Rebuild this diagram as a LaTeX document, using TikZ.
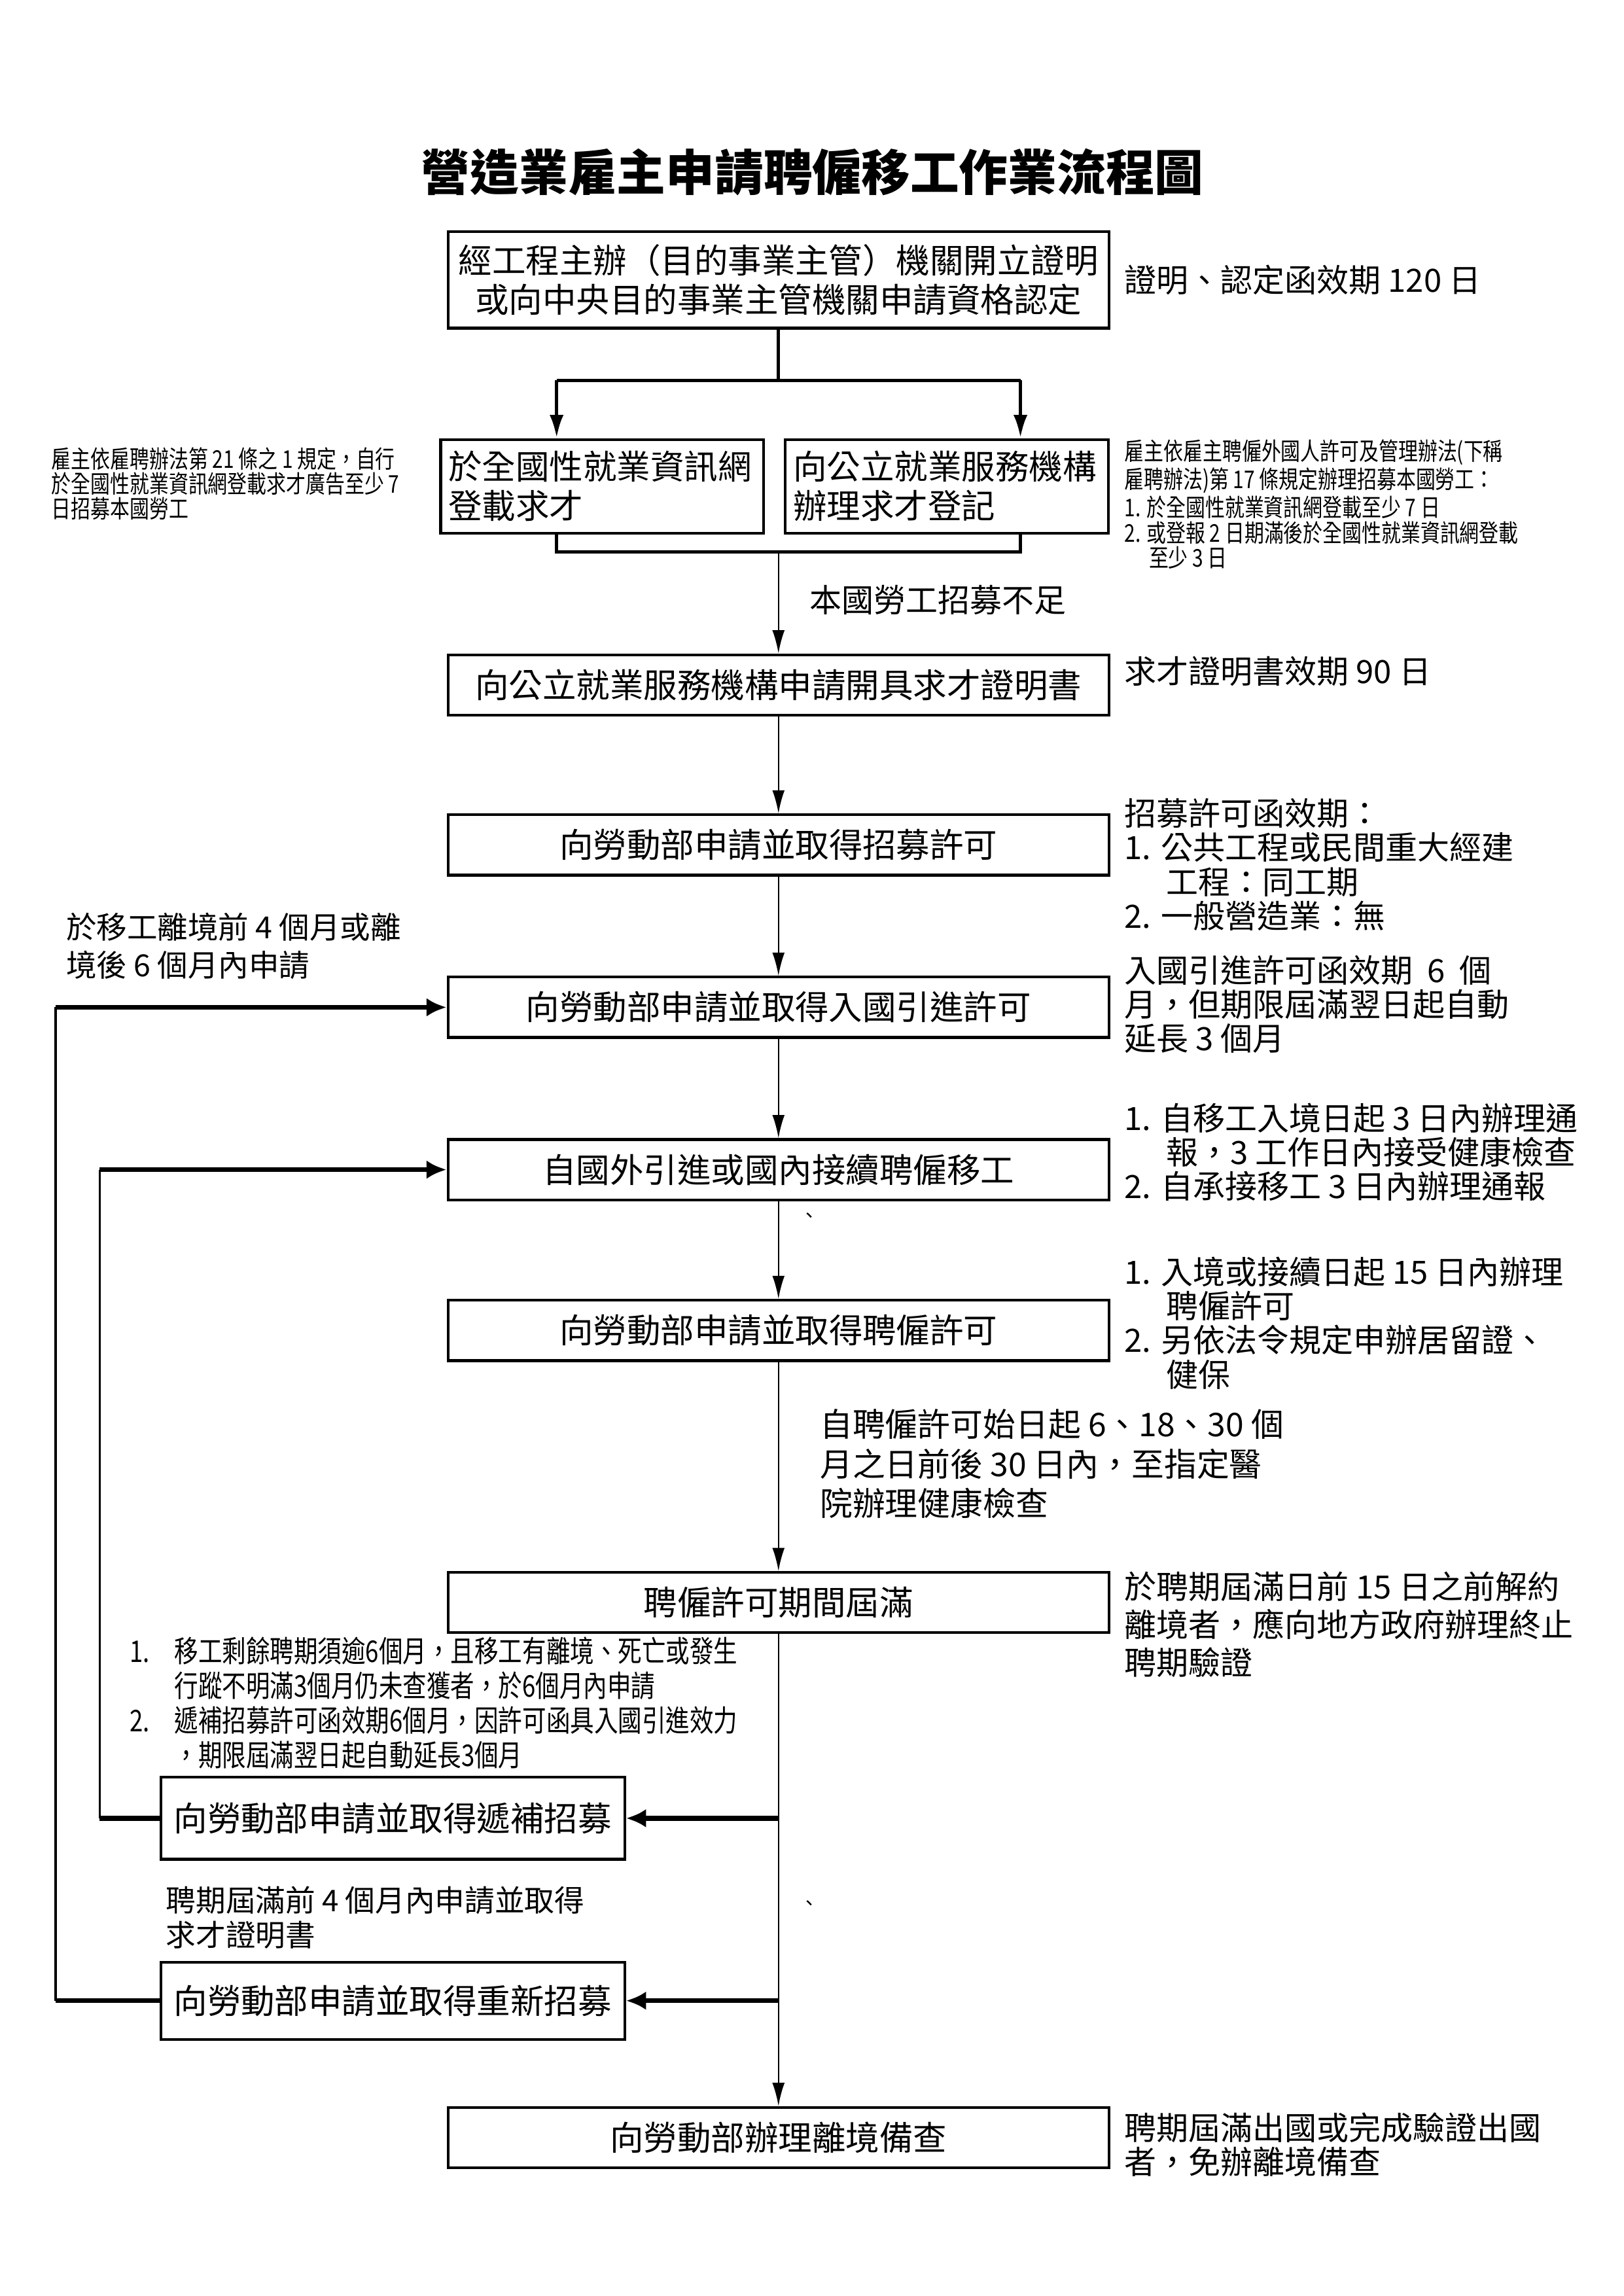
\documentclass[tikz,border=0pt]{standalone}
\usepackage{fontspec}
\setmainfont{Noto Sans CJK TC}
\newfontfamily\narrowcjk{Noto Sans CJK TC}[FakeStretch=0.8]
\usetikzlibrary{arrows.meta}

\begin{document}
\begin{tikzpicture}[
    box/.style={draw, line width=1pt, minimum width=8.55cm, minimum height=0.78cm,
      inner sep=0pt, align=center, font=\fontsize{12.4}{14.5}\selectfont},
    halfbox/.style={draw, line width=1pt, minimum height=1.21cm, text width=3.98cm,
      inner xsep=0.1cm, inner ysep=0pt, align=left, font=\fontsize{12.4}{14.5}\selectfont},
    sidebox/.style={box, minimum width=6.0cm},
    note/.style={anchor=north west, inner sep=0pt, align=left, font=\fontsize{11.8}{12.6}\selectfont},
    smallnote/.style={anchor=north west, inner sep=0pt, align=left,
      font=\narrowcjk\fontsize{9}{9.2}\selectfont},
    link/.style={line width=0.6pt},
    flow/.style={link, -{Latex[length=3mm,width=1.6mm]}},
    fork/.style={line width=1.3pt},
    rail/.style={line width=1.8pt},
    railflow/.style={line width=1.8pt, -{Latex[length=2.6mm,width=2.4mm]}}
  ]
  \useasboundingbox (0,0) rectangle (21,-29.7);

  % title
  \node[font=\fontsize{18}{21}\selectfont\bfseries] (title) at (10.51,-2.23) {營造業雇主申請聘僱移工作業流程圖};

  % main column
  \node[box, minimum height=1.25cm] (qual) at (10.07,-3.62)
    {經工程主辦（目的事業主管）機關開立證明\\或向中央目的事業主管機關申請資格認定};
  \node[halfbox] (webpost) at (7.79,-6.29) {於全國性就業資訊網\\登載求才};
  \node[halfbox] (pesoreg) at (12.25,-6.29) {向公立就業服務機構\\辦理求才登記};
  \node[box] (jobcert) at (10.07,-8.86) {向公立就業服務機構申請開具求才證明書};
  \node[box] (recruit) at (10.07,-10.93) {向勞動部申請並取得招募許可};
  \node[box] (entry) at (10.07,-13.03) {向勞動部申請並取得入國引進許可};
  \node[box] (hirein) at (10.07,-15.13) {自國外引進或國內接續聘僱移工};
  \node[box] (employ) at (10.07,-17.21) {向勞動部申請並取得聘僱許可};
  \node[box] (expire) at (10.07,-20.73) {聘僱許可期間屆滿};
  \node[sidebox, minimum height=1.06cm] (refill) at (5.08,-23.52) {向勞動部申請並取得遞補招募};
  \node[sidebox, minimum height=1.0cm] (rehire) at (5.08,-25.88) {向勞動部申請並取得重新招募};
  \node[box] (leave) at (10.07,-27.65) {向勞動部辦理離境備查};

  % notes on the right
  \node[note, anchor=west] (qualnote) at (14.54,-3.62) {證明、認定函效期 120 日};
  \node[smallnote] (pesonote) at (14.54,-5.68)
    {雇主依雇主聘僱外國人許可及管理辦法(下稱\\雇聘辦法)第 17 條規定辦理招募本國勞工：\\
     1. 於全國性就業資訊網登載至少 7 日\\2. 或登報 2 日期滿後於全國性就業資訊網登載\\
     \hspace*{1em}至少 3 日};
  \node[note] (certnote) at (14.54,-8.48) {求才證明書效期 90 日};
  \node[note] (recruitnote) at (14.54,-10.32)
    {招募許可函效期：\\1. 公共工程或民間重大經建\\\hspace*{1.3em}工程：同工期\\2. 一般營造業：無};
  \node[note] (entrynote) at (14.54,-12.35)
    {入國引進許可函效期 \ 6 \ 個\\月，但期限屆滿翌日起自動\\延長 3 個月};
  \node[note] (hirenote) at (14.54,-14.26)
    {1. 自移工入境日起 3 日內辦理通\\\hspace*{1.3em}報，3 工作日內接受健康檢查\\2. 自承接移工 3 日內辦理通報};
  \node[note] (employnote) at (14.54,-16.25)
    {1. 入境或接續日起 15 日內辦理\\\hspace*{1.3em}聘僱許可\\2. 另依法令規定申辦居留證、\\\hspace*{1.3em}健保};
  \node[note, font=\fontsize{11.8}{14}\selectfont] (expirenote) at (14.54,-20.32)
    {於聘期屆滿日前 15 日之前解約\\離境者，應向地方政府辦理終止\\聘期驗證};
  \node[note] (leavenote) at (14.54,-27.32) {聘期屆滿出國或完成驗證出國\\者，免辦離境備查};

  % notes on the left and along the line
  \node[smallnote] (webnote) at (0.66,-5.78)
    {雇主依雇聘辦法第 21 條之 1 規定，自行\\於全國性就業資訊網登載求才廣告至少 7\\日招募本國勞工};
  \node[note, anchor=west] (shortage) at (10.47,-7.76) {本國勞工招募不足};
  \node[note, font=\fontsize{11.2}{14}\selectfont] (entrytime) at (0.85,-11.80)
    {於移工離境前 4 個月或離\\境後 6 個月內申請};
  \node[note, font=\fontsize{12}{14.6}\selectfont] (checkup) at (10.60,-18.22)
    {自聘僱許可始日起 6、18、30 個\\月之日前後 30 日內，至指定醫\\院辦理健康檢查};
  \node[note, font=\narrowcjk\fontsize{11}{12.7}\selectfont] (refillnote) at (1.67,-21.17)
    {\makebox[1.5em][l]{1.}移工剩餘聘期須逾6個月，且移工有離境、死亡或發生\\
     \hspace*{1.5em}行蹤不明滿3個月仍未查獲者，於6個月內申請\\
     \makebox[1.5em][l]{2.}遞補招募許可函效期6個月，因許可函具入國引進效力\\
     \hspace*{1.5em}，期限屆滿翌日起自動延長3個月};
  \node[note, font=\fontsize{11}{12.9}\selectfont] (rehirenote) at (2.14,-24.39)
    {聘期屆滿前 4 個月內申請並取得\\求才證明書};
  \node[font=\fontsize{7}{7}\selectfont] (mark1) at (10.47,-15.75) {、};
  \node[font=\fontsize{7}{7}\selectfont] (mark2) at (10.47,-24.65) {、};

  % fork and merge
  \coordinate (split) at (10.07,-4.92);
  \coordinate (forkL) at (7.20,-4.92);
  \coordinate (forkR) at (13.20,-4.92);
  \coordinate (joinL) at (7.20,-7.14);
  \coordinate (joinR) at (13.20,-7.14);
  \coordinate (merge) at (10.07,-7.14);
  \draw[fork] (qual.south) -- (split);
  \draw[fork] (forkL) -- (forkR);
  \draw[fork, -{Latex[length=3mm,width=1.8mm]}] (forkL) -- (forkL |- webpost.north);
  \draw[fork, -{Latex[length=3mm,width=1.8mm]}] (forkR) -- (forkR |- pesoreg.north);
  \draw[fork] (forkL |- webpost.south) -- (joinL) -- (joinR) -- (forkR |- pesoreg.south);
  \draw[flow] (merge) -- (jobcert.north);

  % main flow
  \draw[flow] (jobcert) -- (recruit);
  \draw[flow] (recruit) -- (entry);
  \draw[flow] (entry) -- (hirein);
  \draw[flow] (hirein) -- (employ);
  \draw[flow] (employ) -- (expire);
  \draw[flow] (expire) -- (leave);
  \draw[railflow] (expire.south |- refill.east) -- (refill.east);
  \draw[railflow] (expire.south |- rehire.east) -- (rehire.east);

  % loops back on the left
  \coordinate (railF) at (1.29,-15.13);
  \coordinate (railE) at (0.72,-13.03);
  \draw[rail] (refill.west) -- (refill.west -| railF);
  \draw[link, line width=0.9pt] (refill.west -| railF) -- (railF);
  \draw[railflow] (railF) -- (hirein.west);
  \draw[rail] (rehire.west) -- (rehire.west -| railE);
  \draw[link, line width=0.9pt] (rehire.west -| railE) -- (railE);
  \draw[railflow] (railE) -- (entry.west);
\end{tikzpicture}
\end{document}
